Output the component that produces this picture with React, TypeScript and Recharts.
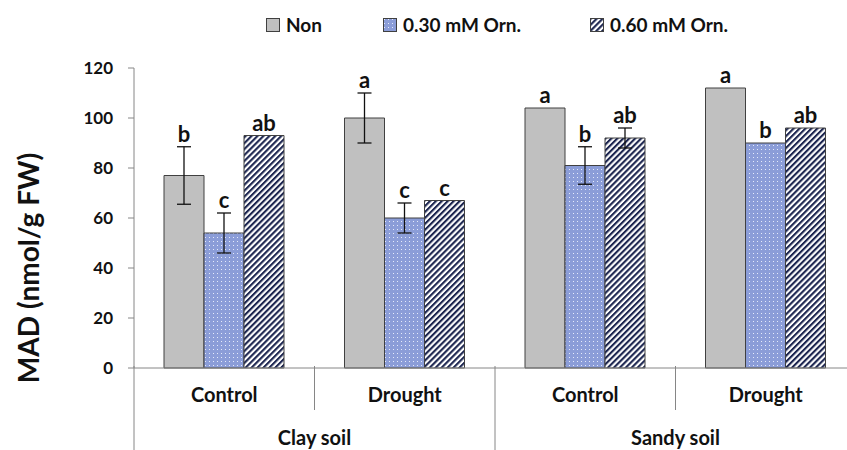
import { BarChart, Bar, XAxis, YAxis, ErrorBar, LabelList, Label } from "recharts";

const FONT = "Lato, 'Open Sans', sans-serif";

const categories = ["Control", "Drought", "Control", "Drought"];
const soils = ["Clay soil", "Clay soil", "Sandy soil", "Sandy soil"];

const nonValues = [77, 100, 104, 112];
const nonErrors = [11.5, 10, null, null];
const nonLetters = ["b", "a", "a", "a"];

const orn30Values = [54, 60, 81, 90];
const orn30Errors = [8, 6, 7.5, null];
const orn30Letters = ["c", "c", "b", "b"];

const orn60Values = [93, 67, 92, 96];
const orn60Errors = [null, null, 4, null];
const orn60Letters = ["ab", "c", "ab", "ab"];

const yTicks = [0, 20, 40, 60, 80, 100, 120];

const data = categories.map((c, i) => ({
  cat: c,
  soil: soils[i],
  non: nonValues[i],
  nonErr: nonErrors[i],
  nonL: nonLetters[i],
  o30: orn30Values[i],
  o30Err: orn30Errors[i],
  o30L: orn30Letters[i],
  o60: orn60Values[i],
  o60Err: orn60Errors[i],
  o60L: orn60Letters[i],
}));

const CHART_W = 870;
const PLOT_LEFT = 134;
const RIGHT = 14;
const BAND = (CHART_W - PLOT_LEFT - RIGHT) / categories.length;

const series = [
  { key: "non", name: "Non", fill: "#c0c0c0", left: 266 },
  { key: "o30", name: "0.30 mM Orn.", fill: "url(#dots)", left: 383 },
  { key: "o60", name: "0.60 mM Orn.", fill: "url(#hatch)", left: 590 },
];

function letterLabel(valKey: string, errKey: string) {
  return (props: any) => {
    const { x, y, width, height, value, index } = props;
    const row: any = data[index];
    const perUnit = height / row[valKey];
    const err = row[errKey] ?? 0;
    const top = y - err * perUnit;
    return (
      <text
        x={x + width / 2}
        y={top - 5}
        textAnchor="middle"
        fontFamily={FONT}
        fontWeight={700}
        fontSize={22}
        fill="#111"
      >
        {value}
      </text>
    );
  };
}

function CategoryTick(props: any) {
  const { x, y, payload, index } = props;
  const left = x - BAND / 2;
  const groupStart = index % 2 === 0;
  return (
    <g>
      <line x1={left} y1={y - 10} x2={left} y2={groupStart ? 450 : y + 34} stroke="#868686" strokeWidth={1} />
      <text x={x} y={y + 26} textAnchor="middle" fontFamily={FONT} fontWeight={700} fontSize={20} fill="#111">
        {payload.value}
      </text>
      {groupStart && (
        <text x={x + BAND / 2} y={y + 69} textAnchor="middle" fontFamily={FONT} fontWeight={700} fontSize={20} fill="#111">
          {soils[index]}
        </text>
      )}
    </g>
  );
}

function ChartLegend() {
  return (
    <div style={{ position: "absolute", top: 0, left: 0, width: 847, height: 50, fontFamily: FONT, fontWeight: 700, fontSize: 19, color: "#111" }}>
      {series.map((s) => (
        <div key={s.key} style={{ position: "absolute", left: s.left, top: 13, display: "flex", alignItems: "center", whiteSpace: "nowrap" }}>
          <svg width={14} height={14} style={{ marginRight: 6 }}>
            <rect x={0.5} y={0.5} width={13} height={13} fill={s.fill} stroke="#404040" strokeWidth={1} />
          </svg>
          <span>{s.name}</span>
        </div>
      ))}
    </div>
  );
}

export default function App() {
  return (
    <div style={{ width: 847, height: 450, overflow: "hidden", position: "relative", background: "#fff" }}>
      <style>{`body{margin:0}`}</style>
      <svg width={0} height={0} style={{ position: "absolute" }}>
        <defs>
          <pattern id="dots" width={4} height={4} patternUnits="userSpaceOnUse">
            <rect width={4} height={4} fill="#8b9dd8" />
            <rect x={1} y={1} width={1} height={1} fill="#e6ebfa" />
          </pattern>
          <pattern id="hatch" width={4.2} height={4.2} patternUnits="userSpaceOnUse" patternTransform="rotate(45)">
            <rect width={4.2} height={4.2} fill="#ffffff" />
            <rect width={2.1} height={4.2} fill="#1c2550" />
          </pattern>
        </defs>
      </svg>
      <ChartLegend />
      <BarChart
        width={CHART_W}
        height={450}
        data={data}
        margin={{ top: 68, right: RIGHT, bottom: 0, left: 0 }}
        barGap={0}
        barCategoryGap={30}
      >
        <XAxis
          dataKey="cat"
          height={82}
          interval={0}
          tickLine={false}
          axisLine={{ stroke: "#868686" }}
          tick={<CategoryTick />}
        />
        <YAxis
          width={PLOT_LEFT}
          domain={[0, 120]}
          ticks={yTicks}
          interval={0}
          tickSize={6}
          tickMargin={15}
          tickLine={{ stroke: "#868686" }}
          axisLine={{ stroke: "#868686" }}
          tick={{ fontFamily: FONT, fontWeight: 700, fontSize: 17, fill: "#111" }}
        >
          <Label
            content={() => (
              <text
                x={0}
                y={0}
                transform="translate(39, 268) rotate(-90)"
                textAnchor="middle"
                fontFamily={FONT}
                fontWeight={700}
                fontSize={28}
                fill="#111"
              >
                MAD (nmol/g FW)
              </text>
            )}
          />
        </YAxis>
        <Bar dataKey="non" name="Non" fill="#c0c0c0" stroke="#404040" strokeWidth={1} isAnimationActive={false}>
          <ErrorBar dataKey="nonErr" width={7} stroke="#111" strokeWidth={1.3} />
          <LabelList dataKey="nonL" content={letterLabel("non", "nonErr")} />
        </Bar>
        <Bar dataKey="o30" name="0.30 mM Orn." fill="url(#dots)" stroke="#404040" strokeWidth={1} isAnimationActive={false}>
          <ErrorBar dataKey="o30Err" width={7} stroke="#111" strokeWidth={1.3} />
          <LabelList dataKey="o30L" content={letterLabel("o30", "o30Err")} />
        </Bar>
        <Bar dataKey="o60" name="0.60 mM Orn." fill="url(#hatch)" stroke="#404040" strokeWidth={1} isAnimationActive={false}>
          <ErrorBar dataKey="o60Err" width={7} stroke="#111" strokeWidth={1.3} />
          <LabelList dataKey="o60L" content={letterLabel("o60", "o60Err")} />
        </Bar>
      </BarChart>
    </div>
  );
}
